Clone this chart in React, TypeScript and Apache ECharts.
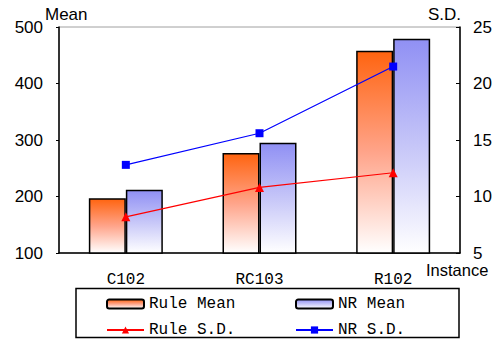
import React, { useEffect, useRef } from "react";
import * as echarts from "echarts";

// Instances on the category axis
const instances = ["C102", "RC103", "R102"];
// Mean values (left axis)
const ruleMean = [197, 277, 458];
const nrMean = [212, 295, 479];
// Standard deviations (right axis)
const ruleSD = [8.2, 10.8, 12.1];
const nrSD = [12.8, 15.6, 21.5];
// Axis ranges
const meanAxis = { min: 100, max: 500, interval: 100 };
const sdAxis = { min: 5, max: 25, interval: 5 };

const sans = "'Liberation Sans', Arial, sans-serif";
const mono = "'Liberation Mono', 'DejaVu Sans Mono', monospace";

const orangeFill = new echarts.graphic.LinearGradient(0, 0, 0, 1, [
  { offset: 0, color: "#ff6410" },
  { offset: 0.5, color: "#ffa48a" },
  { offset: 1, color: "#ffffff" },
]);
const blueFill = new echarts.graphic.LinearGradient(0, 0, 0, 1, [
  { offset: 0, color: "#9090f4" },
  { offset: 0.5, color: "#c6c6f8" },
  { offset: 1, color: "#ffffff" },
]);

export default function App() {
  const ref = useRef<HTMLDivElement>(null);

  useEffect(() => {
    if (!ref.current) return;
    const chart = echarts.init(ref.current, null, { renderer: "svg" });
    const legendText = { fontFamily: mono, fontSize: 16, color: "#000" };
    chart.setOption({
      animation: false,
      backgroundColor: "#ffffff",
      grid: {
        left: 59,
        right: 41,
        top: 27,
        bottom: 87,
        show: true,
        borderColor: "#a0a0a0",
        borderWidth: 1,
      },
      xAxis: {
        type: "category",
        data: instances,
        axisLine: { lineStyle: { color: "#000", width: 1.5 } },
        axisTick: { inside: true, length: 4, lineStyle: { color: "#000" } },
        axisLabel: {
          fontFamily: mono,
          fontSize: 16,
          color: "#000",
          margin: 19,
        },
      },
      yAxis: [
        {
          type: "value",
          ...meanAxis,
          splitLine: { show: false },
          axisLine: { show: true, lineStyle: { color: "#000", width: 1.5 } },
          axisTick: { show: true, length: 3, lineStyle: { color: "#000" } },
          axisLabel: {
            fontFamily: sans,
            fontSize: 17,
            lineHeight: 17,
            color: "#000",
            margin: 16,
          },
        },
        {
          type: "value",
          ...sdAxis,
          position: "right",
          splitLine: { show: false },
          axisLine: { show: true, lineStyle: { color: "#000", width: 1.5 } },
          axisTick: { show: true, inside: true, length: 4, lineStyle: { color: "#000" } },
          axisLabel: {
            fontFamily: sans,
            fontSize: 17,
            lineHeight: 17,
            color: "#000",
            margin: 13,
          },
        },
      ],
      legend: [
        {
          orient: "vertical",
          left: 106,
          top: 296,
          itemWidth: 37,
          itemHeight: 9,
          itemGap: 10,
          padding: 0,
          textStyle: legendText,
          data: ["Rule Mean", "Rule S.D."],
        },
        {
          orient: "vertical",
          left: 295,
          top: 296,
          itemWidth: 37,
          itemHeight: 9,
          itemGap: 10,
          padding: 0,
          textStyle: legendText,
          data: ["NR Mean", "NR S.D."],
        },
      ],
      graphic: [
        {
          type: "rect",
          shape: { x: 76, y: 288.5, width: 383, height: 49 },
          style: { fill: "none", stroke: "#000", lineWidth: 1.5 },
          z: 0,
        },
        {
          type: "text",
          x: 45,
          y: 14,
          style: {
            text: "Mean",
            fontFamily: sans,
            fontSize: 17,
            fill: "#000",
            verticalAlign: "middle",
          },
        },
        {
          type: "text",
          x: 461,
          y: 14,
          style: {
            text: "S.D.",
            fontFamily: sans,
            fontSize: 17,
            fill: "#000",
            align: "right",
            verticalAlign: "middle",
          },
        },
        {
          type: "text",
          x: 426,
          y: 270,
          style: {
            text: "Instance",
            fontFamily: sans,
            fontSize: 16.5,
            lineHeight: 16,
            fill: "#000",
            verticalAlign: "middle",
          },
        },
      ],
      series: [
        {
          name: "Rule Mean",
          type: "bar",
          data: ruleMean,
          barWidth: 37,
          barGap: "0%",
          itemStyle: { color: orangeFill, borderColor: "#000", borderWidth: 1.5 },
          z: 2,
        },
        {
          name: "NR Mean",
          type: "bar",
          data: nrMean,
          barWidth: 37,
          barGap: "0%",
          itemStyle: { color: blueFill, borderColor: "#000", borderWidth: 1.5 },
          z: 2,
        },
        {
          name: "Rule S.D.",
          type: "line",
          yAxisIndex: 1,
          data: ruleSD,
          symbol: "triangle",
          symbolSize: 9,
          lineStyle: { color: "#ff0000", width: 1.2 },
          itemStyle: { color: "#ff0000" },
          z: 3,
        },
        {
          name: "NR S.D.",
          type: "line",
          yAxisIndex: 1,
          data: nrSD,
          symbol: "rect",
          symbolSize: 8,
          lineStyle: { color: "#0000ff", width: 1.2 },
          itemStyle: { color: "#0000ff" },
          z: 3,
        },
      ],
    });
    return () => chart.dispose();
  }, []);

  return (
    <div
      ref={ref}
      style={{ position: "fixed", left: 0, top: 0, width: 501, height: 340 }}
    />
  );
}
